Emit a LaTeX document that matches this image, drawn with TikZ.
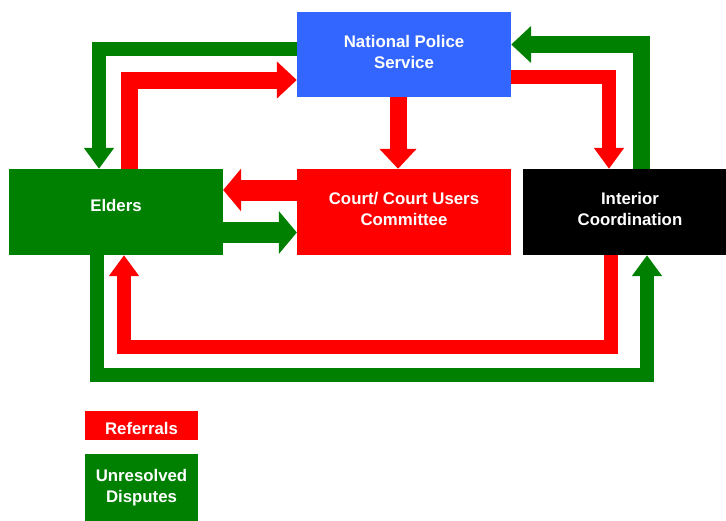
\documentclass[tikz,border=0pt]{standalone}
\usepackage{fontspec}
\setsansfont{Liberation Sans}
\usetikzlibrary{arrows.meta}
\definecolor{policeblue}{HTML}{3366FF}
\definecolor{flowgreen}{HTML}{008000}
\definecolor{flowred}{HTML}{FF0000}
\tikzset{
  box/.style={rectangle, inner sep=0pt, minimum width=214pt, minimum height=86pt},
  boxtext/.style={text=white, align=center, inner sep=0pt,
    font=\sffamily\bfseries\fontsize{16.8}{21}\selectfont},
  flow/.style={line width=14pt, -{Triangle[width=29pt,length=21pt]}},
  wideflow/.style={line width=17pt, -{Triangle[width=36pt,length=20pt]}},
  bigflow/.style={line width=21pt, -{Triangle[width=42pt,length=18pt]}},
}
\begin{document}
\begin{tikzpicture}[x=1pt,y=-1pt]
  \useasboundingbox (0,0) rectangle (726,520);
  % agencies
  \node[box, fill=policeblue, minimum height=85pt] (police) at (404,54.5) {};
  \node[box, fill=flowgreen] (elders) at (116,212) {};
  \node[box, fill=flowred] (court) at (404,212) {};
  \node[box, fill=black] (interior) at (630,212) {};
  \node[boxtext] (policetext) at ([yshift=3pt]police.center) {National Police\\Service};
  \node[boxtext] (elderstext) at ([yshift=7pt]elders.center) {Elders};
  \node[boxtext] (courttext) at ([yshift=3.5pt]court.center) {Court/ Court Users\\Committee};
  \node[boxtext] (interiortext) at ([yshift=3.5pt]interior.center) {Interior\\Coordination};

  % referrals
  \draw[wideflow, flowred] ([xshift=13pt]elders.north) |- ([yshift=-25.5pt]police.west);
  \draw[wideflow, flowred] ([xshift=-6pt]police.south) -- ([xshift=-6pt]court.north);
  \draw[flow, flowred] ([yshift=-22pt]police.east) -| ([xshift=-21pt]interior.north);
  \draw[bigflow, flowred] ([yshift=22pt]court.west) -- ([yshift=22pt]elders.east);
  \draw[flow, flowred] ([xshift=-19pt]interior.south) -- ++(0,91.5) -| ([xshift=8pt]elders.south);

  % unresolved disputes
  \draw[flow, flowgreen] ([yshift=6pt]police.west) -| ([xshift=-17pt]elders.north);
  \draw[wideflow, flowgreen] ([xshift=11pt]interior.north) |- ([yshift=10pt]police.east);
  \draw[bigflow, flowgreen] ([yshift=-20.5pt]elders.east) -- ([yshift=-20.5pt]court.west);
  \draw[flow, flowgreen] ([xshift=-19pt]elders.south) -- ++(0,120) -| ([xshift=17pt]interior.south);

  % legend
  \node[box, fill=flowred, minimum width=113pt, minimum height=29pt] (referrals) at (141.5,425.5) {};
  \node[boxtext] (referralstext) at ([yshift=-2.5pt]referrals.center) {Referrals};
  \node[box, fill=flowgreen, minimum width=113pt, minimum height=67pt] (unresolved) at (141.5,487.5) {};
  \node[boxtext] (unresolvedtext) at (unresolved.center) {Unresolved\\Disputes};
\end{tikzpicture}
\end{document}
